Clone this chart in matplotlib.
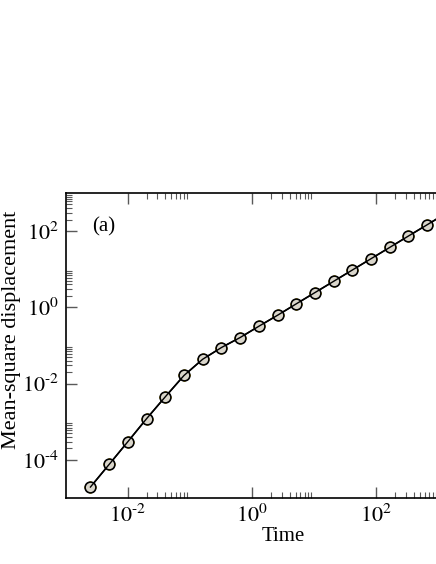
import numpy as np
import matplotlib
matplotlib.use("Agg")
import matplotlib.pyplot as plt
from matplotlib.ticker import FixedLocator, FuncFormatter, NullFormatter

plt.rcParams["font.family"] = ["Liberation Serif", "DejaVu Serif"]
plt.rcParams["mathtext.fontset"] = "stix"

# simulation times (doubling steps) and mean-square displacement
time = [0.0025, 0.005, 0.01, 0.02, 0.04, 0.08, 0.16, 0.32, 0.64, 1.28,
        2.56, 5.12, 10.24, 20.48, 40.96, 81.92, 163.84, 327.68, 655.36]
msd = [1.94e-5, 7.6e-5, 3.0e-4, 1.2e-3, 4.5e-3, 1.63e-2, 4.35e-2, 8.8e-2,
       0.161, 0.318, 0.618, 1.23, 2.43, 4.8, 9.5, 18.8, 37.2, 74.0, 146.0]

# theory curve (continues past the last simulation point)
time_line = time + [1310.72, 2621.44, 5242.88, 10485.76]
msd_line = msd + [290.0, 578.0, 1150.0, 2300.0]

fig = plt.figure(figsize=(4.36, 5.64), dpi=100)
# axes run past the right edge of the figure, like the cropped original
ax = fig.add_axes([0.1507, 0.117, 0.9977, 0.541])

ax.plot(time_line, msd_line, color="black", lw=1.2, zorder=2)
ax.plot(time, msd, ls="none", marker="^", ms=6, mfc="none", mec="blue", mew=0.6, zorder=3)
ax.plot(time, msd, ls="none", marker="s", ms=5.5, mfc="none", mec="red", mew=0.6, zorder=3)
ax.plot(time, msd, ls="none", marker="D", ms=6, mfc="none", mec="gold", mew=0.8, zorder=3)
ax.plot(time, msd, ls="none", marker="o", ms=7.8, mfc="#dad6cb", mec="black", mew=1.2, zorder=4)
ax.plot(time_line, msd_line, color="black", lw=1.0, zorder=5)

ax.set_xscale("log")
ax.set_yscale("log")
ax.set_xlim(1e-3, 1e4)
ax.set_ylim(1e-5, 1e3)


def pow_label(v, p):
    e = int(round(np.log10(v)))
    if e < 0:
        return r"$10^{\text{-}%d}$" % (-e)
    return r"$10^{%d}$" % e


subs = np.arange(2, 10)
ax.xaxis.set_major_locator(FixedLocator([1e-2, 1e0, 1e2]))
ax.xaxis.set_minor_locator(FixedLocator([s * 10.0**k for k in (-2, 0, 2) for s in subs]))
ax.yaxis.set_major_locator(FixedLocator([1e-4, 1e-2, 1e0, 1e2]))
ax.yaxis.set_minor_locator(FixedLocator([s * 10.0**k for k in (-4, -2, 0, 2) for s in subs]))
ax.xaxis.set_major_formatter(FuncFormatter(pow_label))
ax.yaxis.set_major_formatter(FuncFormatter(pow_label))
ax.xaxis.set_minor_formatter(NullFormatter())
ax.yaxis.set_minor_formatter(NullFormatter())

ax.tick_params(which="both", direction="in", top=True, right=True, labelsize=16, color="0.35")
ax.tick_params(which="major", length=8, width=1.0, pad=5)
ax.tick_params(which="minor", length=4, width=0.8)
for sp in ax.spines.values():
    sp.set_linewidth(1.2)

ax.set_xlabel("Time", fontsize=15, labelpad=0)
ax.set_ylabel("Mean-square displacement", fontsize=16)
ax.yaxis.set_label_coords(-0.103, 0.55)
ax.text(0.06, 0.92, "(a)", transform=ax.transAxes, fontsize=15, va="top")

fig.savefig("out.png", dpi=100)
